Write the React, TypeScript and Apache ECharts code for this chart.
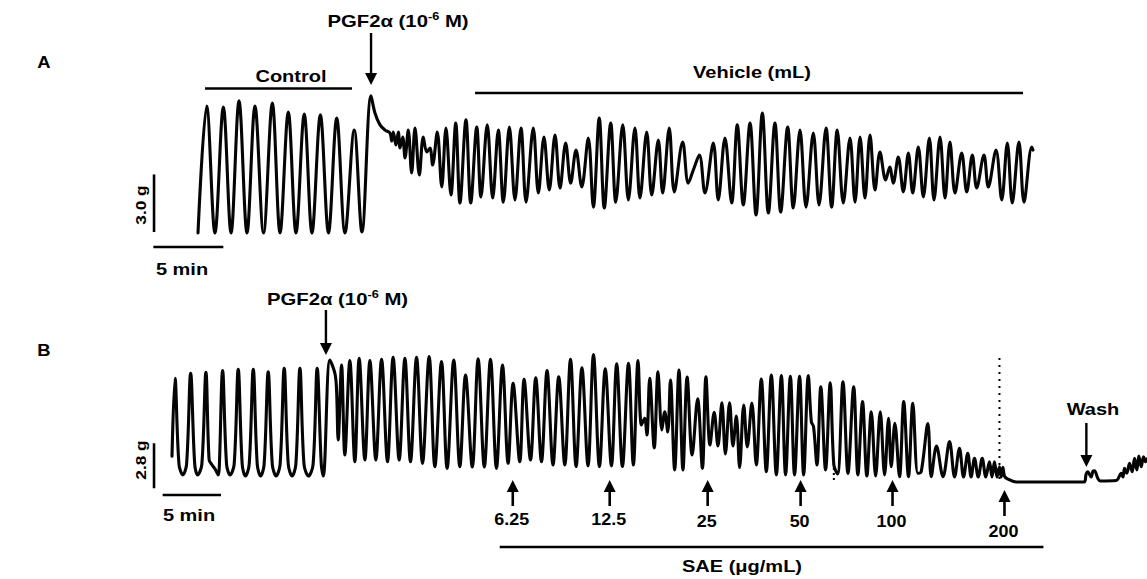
import { useEffect, useRef } from "react";
import * as echarts from "echarts";

const W = 1147;
const H = 579;
const FONT = '"Liberation Sans", Arial, Helvetica, sans-serif';

// ---------- Trace A : time (min) , tension (g) ----------
const A_CONTROL: [number, number][] = [
  [0, 0], [0.62, 6.61], [1.21, 0], [1.81, 6.56], [2.36, 0], [2.93, 6.88], [3.5, 0],
  [4.07, 6.61], [4.68, 0], [5.31, 6.77], [5.86, 0], [6.45, 6.3], [7.0, 0], [7.59, 6.2],
  [8.14, 0], [8.74, 6.15], [9.32, 0], [9.91, 5.99], [10.5, 0], [11.16, 5.36], [11.71, 0.05],
];
const A_PGF: [number, number][] = [
  [12.36, 7.14], [12.64, 6.25], [13.0, 5.63], [13.36, 5.36], [13.71, 5.21], [13.84, 4.79],
  [13.95, 5.26], [14.14, 4.58], [14.31, 5.26], [14.43, 4.43], [14.62, 5.0], [14.79, 3.91],
  [15.02, 5.36], [15.26, 3.13], [15.5, 5.47], [15.81, 3.02], [16.09, 5.0], [16.34, 4.22],
  [16.57, 4.43], [16.76, 3.54],
];
const A_VEHICLE: [number, number][] = [
  [17.09, 5.26], [17.41, 2.4], [17.71, 5.47], [18.07, 1.98], [18.41, 5.73], [18.71, 1.56],
  [19.14, 5.89], [19.48, 1.56], [19.91, 5.52], [20.21, 1.88], [20.66, 5.63], [21.05, 1.82],
  [21.45, 5.36], [21.81, 1.61], [22.24, 5.52], [22.64, 1.72], [23.07, 5.47], [23.43, 1.61],
  [23.95, 5.47], [24.31, 2.08], [24.71, 5.0], [25.09, 2.24], [25.5, 5.1], [25.86, 2.34],
  [26.26, 4.69], [26.62, 2.6], [27.0, 4.32], [27.41, 2.4], [27.88, 4.95], [28.24, 1.35],
  [28.66, 5.99], [29.02, 1.3], [29.48, 5.73], [29.84, 1.61], [30.34, 5.63], [30.74, 1.72],
  [31.21, 5.47], [31.57, 1.82], [32.05, 5.26], [32.41, 1.98], [32.88, 4.84], [33.19, 2.08],
  [33.66, 5.47], [34.02, 2.14], [34.62, 4.74], [35.02, 2.6], [35.38, 3.28], [35.81, 4.06],
  [36.21, 2.08], [36.81, 4.69], [37.16, 1.72], [37.64, 4.95], [38.12, 1.56], [38.52, 5.63],
  [38.95, 1.46], [39.43, 5.73], [39.86, 0.94], [40.31, 6.25], [40.74, 1.04], [41.21, 5.73],
  [41.62, 1.09], [42.12, 5.52], [42.52, 1.3], [43.0, 5.36], [43.43, 1.35], [43.95, 5.21],
  [44.36, 1.46], [44.86, 5.47], [45.26, 1.35], [45.66, 5.36], [46.09, 1.56], [46.57, 4.95],
  [46.93, 1.61], [47.29, 5.0], [47.64, 1.82], [48.0, 5.1], [48.36, 2.24], [48.71, 4.22],
  [49.12, 2.76], [49.41, 3.44], [49.66, 2.6], [50.02, 3.96], [50.38, 2.14], [50.74, 4.17],
  [51.05, 2.08], [51.45, 4.48], [51.81, 1.88], [52.24, 4.95], [52.57, 1.72], [53.0, 5.0],
  [53.36, 1.82], [53.71, 4.74], [54.07, 2.08], [54.55, 4.17], [54.91, 2.14], [55.31, 4.06],
  [55.62, 2.34], [56.14, 4.06], [56.45, 2.4], [57.0, 4.32], [57.41, 1.72], [57.81, 4.69],
  [58.16, 1.56], [58.64, 4.74], [59.0, 1.61], [59.55, 4.48], [59.64, 4.32],
];

// ---------- Trace B : time (min) , tension (g) ----------
const B_BASAL: [number, number][] = [
  [0, 1.6], [0.26, 6.45], [0.6, 1.1], [0.93, 0.44], [1.25, 1.1], [1.6, 6.76], [1.95, 1.1],
  [2.2, 0.44], [2.56, 1.1], [2.91, 6.83], [3.18, 1.4], [3.4, 1.1], [3.7, 0.8], [3.97, 0.44],
  [4.06, 1.0], [4.34, 6.93], [4.68, 1.1], [4.98, 0.44], [5.33, 1.1], [5.68, 7.01], [6.02, 1.1],
  [6.3, 0.37], [6.62, 1.1], [6.97, 7.01], [7.31, 1.1], [7.6, 0.37], [7.9, 1.1], [8.25, 6.86],
  [8.6, 1.1], [8.93, 0.37], [9.27, 1.1], [9.62, 7.08], [9.97, 1.1], [10.3, 0.37], [10.62, 1.1],
  [10.97, 7.08], [11.32, 1.1], [11.7, 0.37], [12.1, 1.1], [12.45, 7.08], [12.8, 1.1],
  [12.97, 0.37],
];
const B_PGF: [number, number][] = [
  [13.54, 7.59], [13.97, 6.76], [14.11, 5.73], [14.25, 2.61], [14.54, 7.28], [14.82, 1.68],
  [15.25, 7.55], [15.68, 1.26], [16.05, 7.7], [16.54, 1.37], [16.97, 7.55], [17.48, 1.37],
  [17.97, 7.64], [18.48, 1.26], [18.96, 7.76], [19.48, 1.37], [19.97, 7.7], [20.45, 1.26],
  [20.97, 7.76], [21.48, 1.16], [22.05, 7.8], [22.54, 0.95], [23.11, 7.49], [23.59, 0.85],
  [24.16, 7.59], [24.68, 0.95], [25.17, 6.66], [25.75, 0.93], [26.25, 7.67], [26.78, 0.93],
  [27.31, 7.64], [27.82, 0.85], [28.34, 7.28], [28.82, 1.16],
];
const B_SAE: [number, number][] = [
  [29.25, 6.14], [29.82, 1.26], [30.19, 6.39], [30.74, 1.37], [31.19, 6.49], [31.68, 1.26],
  [32.16, 6.93], [32.67, 1.06], [33.16, 6.55], [33.68, 1.06], [34.17, 7.64], [34.65, 0.96],
  [35.15, 7.11], [35.67, 1.0], [36.14, 7.93], [36.65, 0.95], [37.15, 7.04], [37.68, 1.0],
  [38.13, 7.36], [38.62, 0.96], [39.14, 7.39], [39.56, 1.06], [39.96, 7.55], [40.25, 3.55],
  [40.53, 3.96], [40.72, 2.92], [40.96, 6.45], [41.35, 2.12], [41.67, 6.86], [42.0, 3.24],
  [42.25, 4.37], [42.51, 3.11], [42.74, 6.35], [43.1, 0.75], [43.47, 6.97], [43.81, 0.75],
  [44.17, 6.53], [44.6, 1.68], [45.07, 5.18], [45.48, 0.85], [45.78, 6.55], [46.13, 2.3],
  [46.49, 4.34], [46.81, 2.24], [47.15, 4.93], [47.45, 1.74], [47.81, 4.93], [48.1, 2.24],
  [48.39, 4.11], [48.67, 0.9], [49.02, 4.79], [49.33, 2.18], [49.72, 4.92], [50.1, 1.06],
  [50.53, 6.41], [50.96, 0.64], [51.39, 6.66], [51.82, 0.44], [52.25, 6.63], [52.61, 0.44],
  [53.02, 6.58], [53.38, 0.44], [53.81, 6.58], [54.16, 0.44], [54.56, 6.63], [54.82, 3.75],
  [55.01, 3.44], [55.3, 1.06], [55.63, 5.93], [56.04, 0.75], [56.44, 6.18], [56.75, 1.06],
  [57.07, 0.5], [57.53, 6.24], [57.96, 0.54], [58.45, 5.93], [58.81, 0.44], [59.21, 5.0],
  [59.58, 0.37], [59.96, 4.37], [60.33, 0.37], [60.73, 4.37], [61.1, 0.44], [61.44, 3.96],
  [61.67, 0.95], [61.98, 3.65], [62.38, 0.33], [62.74, 5.0], [63.15, 0.33], [63.52, 4.9],
  [63.95, 0.54], [64.24, 0.64], [64.81, 3.63], [65.1, 0.33], [65.55, 2.24], [66.11, 0.33],
  [66.67, 2.51], [67.1, 0.31], [67.52, 2.1], [67.87, 0.31], [68.23, 1.79], [68.52, 0.31],
  [68.81, 1.47], [69.13, 0.31], [69.47, 1.47], [69.78, 0.31], [70.09, 1.26], [70.31, 0.31],
  [70.52, 1.26], [70.74, 0.31], [70.95, 0.95], [71.1, 0.31], [71.24, 0.91], [71.38, 0.37],
  [71.64, 0.19], [72.38, 0],
];
const B_WASH: [number, number][] = [
  [78.2, 0], [78.38, 0.5], [78.52, 0.64], [78.81, 0.31], [78.97, 0.68], [79.1, 0.7],
  [79.38, 0.23], [79.61, 0.06], [80.96, 0.09], [81.39, 0.54], [81.54, 0.31], [81.67, 0.85],
  [81.87, 0.54], [82.1, 1.16], [82.33, 0.64], [82.53, 1.47], [82.73, 0.75], [82.9, 1.62],
  [83.1, 0.95], [83.3, 1.57], [83.47, 1.26], [83.55, 1.43],
];

// ---------- Protocol events ----------
const PGF_TIME_A = 12.36;
const CONTROL_SPAN_A: [number, number] = [0.5, 11.0];
const VEHICLE_SPAN_A: [number, number] = [19.79, 58.93];
const PGF_TIME_B = 13.2;
const DOSE_LABELS = ["6.25", "12.5", "25", "50", "100", "200"];
const DOSE_TIMES_B = [29.22, 37.53, 45.93, 53.9, 61.78, 71.38];
const SAE_SPAN_B: [number, number] = [28.1, 74.72];
const WASH_TIME_B = 78.4;
const MARK_TIMES_B = [56.75, 70.95];
const SCALE_A = { grams: 3.0, minutes: 5 };
const SCALE_B = { grams: 2.8, minutes: 5 };

function txt(text: string, x: number, y: number, size = 16, sx = 1.25, extra: any = {}) {
  return {
    type: "text",
    x,
    y,
    scaleX: sx,
    ...extra,
    style: {
      text,
      fontSize: size,
      fontWeight: "bold",
      fontFamily: FONT,
      fill: "#000",
      align: "center",
      verticalAlign: "middle",
      textAlign: "center",
      textVerticalAlign: "middle",
    },
  };
}

function pgfLabel(x: number, y: number) {
  return {
    type: "text",
    x,
    y,
    scaleX: 1.27,
    style: {
      text: "{n|PGF2α (10}{s|-6}{n| M)}",
      align: "center",
      verticalAlign: "middle",
      textAlign: "center",
      textVerticalAlign: "middle",
      fill: "#000",
      rich: {
        n: { fontSize: 16, fontWeight: "bold", fontFamily: FONT, fill: "#000", lineHeight: 20 },
        s: { fontSize: 10, fontWeight: "bold", fontFamily: FONT, fill: "#000", verticalAlign: "top", lineHeight: 12 },
      },
    },
  };
}

function seg(x1: number, y1: number, x2: number, y2: number, w = 2.5, dash?: number[]) {
  return {
    type: "line",
    shape: { x1, y1, x2, y2 },
    style: { stroke: "#000", lineWidth: w, lineDash: dash },
  };
}

function arrow(x: number, yStart: number, yTip: number, head = 12, halfW = 6, w = 2.4) {
  const dir = yTip > yStart ? 1 : -1;
  const yb = yTip - dir * head;
  return [
    seg(x, yStart, x, yb + dir * 1, w),
    {
      type: "polygon",
      shape: { points: [[x - halfW, yb], [x + halfW, yb], [x, yTip]] },
      style: { fill: "#000" },
    },
  ];
}

export default function App() {
  const ref = useRef<HTMLDivElement>(null);

  useEffect(() => {
    const el = ref.current;
    if (!el) return;
    const chart = echarts.init(el, null, { renderer: "svg", width: W, height: H });
    const traceA = [...A_CONTROL, ...A_PGF, ...A_VEHICLE];
    const traceB = [...B_BASAL, ...B_PGF, ...B_SAE, ...B_WASH];

    const hiddenAxis = { type: "value", show: false, splitLine: { show: false } };
    const lineSeries = (data: [number, number][], idx: number, name: string) => ({
      type: "line",
      name,
      xAxisIndex: idx,
      yAxisIndex: idx,
      data,
      showSymbol: false,
      symbol: "none",
      smooth: 0.35,
      silent: true,
      lineStyle: { color: "#050505", width: 3.1, join: "round", cap: "round" },
    });

    chart.setOption({
      animation: false,
      backgroundColor: "#ffffff",
      grid: [
        { left: 149, top: 89, width: 896, height: 163.2 },
        { left: 148.66, top: 345.4, width: 998.95, height: 152.67 },
      ],
      xAxis: [
        { ...hiddenAxis, gridIndex: 0, min: -3.5, max: 60.5 },
        { ...hiddenAxis, gridIndex: 1, min: -2, max: 83.6 },
      ],
      yAxis: [
        { ...hiddenAxis, gridIndex: 0, min: -1, max: 7.5 },
        { ...hiddenAxis, gridIndex: 1, min: -1, max: 8.5 },
      ],
      series: [lineSeries(traceA, 0, "A"), lineSeries(traceB, 1, "B")],
    });

    const pA = (t: number, v: number) => chart.convertToPixel({ gridIndex: 0 }, [t, v]) as number[];
    const pB = (t: number, v: number) => chart.convertToPixel({ gridIndex: 1 }, [t, v]) as number[];

    const g: any[] = [];
    // Panel A
    g.push(txt("A", 44, 62, 16, 1.15));
    g.push(pgfLabel(398, 21));
    g.push(...arrow(pA(PGF_TIME_A, 0)[0], 33, 85));
    g.push(txt("Control", 291, 77));
    g.push(seg(pA(CONTROL_SPAN_A[0], 0)[0], 88.5, pA(CONTROL_SPAN_A[1], 0)[0], 88.5, 2.6));
    g.push(txt("Vehicle (mL)", 752, 73));
    g.push(seg(pA(VEHICLE_SPAN_A[0], 0)[0], 93, pA(VEHICLE_SPAN_A[1], 0)[0], 93, 2.6));
    {
      const v0 = pA(-3.14, 0.05);
      const v1 = pA(-3.14, 0.05 + SCALE_A.grams);
      g.push(seg(v0[0], v0[1], v1[0], v1[1], 2.6));
      const h0 = pA(-3.19, -0.73);
      const h1 = pA(-3.19 + SCALE_A.minutes, -0.73);
      g.push(seg(h0[0], h0[1], h1[0], h1[1], 2.6));
      g.push(txt(SCALE_A.grams.toFixed(1) + " g", 140, 205, 15, 1.15, { rotation: Math.PI / 2 }));
      g.push(txt(SCALE_A.minutes + " min", 182, 269.5));
    }
    // Panel B
    g.push(txt("B", 44, 350, 16, 1.15));
    g.push(pgfLabel(337.5, 299));
    g.push(...arrow(pB(PGF_TIME_B, 0)[0], 310, 355));
    {
      const v0 = pB(-1.54, -0.39);
      const v1 = pB(-1.54, -0.39 + SCALE_B.grams);
      g.push(seg(v0[0], v0[1], v1[0], v1[1], 2.6));
      const h0 = pB(-0.8, -0.81);
      const h1 = pB(-0.8 + SCALE_B.minutes, -0.81);
      g.push(seg(h0[0], h0[1], h1[0], h1[1], 2.6));
      g.push(txt(SCALE_B.grams.toFixed(1) + " g", 140, 460, 15, 1.15, { rotation: Math.PI / 2 }));
      g.push(txt(SCALE_B.minutes + " min", 189, 516));
    }
    DOSE_TIMES_B.forEach((t, i) => {
      const x = pB(t, 0)[0];
      const off = i === DOSE_TIMES_B.length - 1 ? 10 : 0;
      g.push(...arrow(x, 506 + off, 480 + off, 12, 6, 2.6));
      g.push(txt(DOSE_LABELS[i], x - 1, 520 + off + (i >= 2 ? 2 : 0), 16, 1.12));
    });
    g.push(seg(pB(SAE_SPAN_B[0], 0)[0], 547, pB(SAE_SPAN_B[1], 0)[0], 547, 2.6));
    g.push(txt("SAE (μg/mL)", 742, 567));
    g.push(txt("Wash", 1093, 410));
    g.push(...arrow(pB(WASH_TIME_B, 0)[0], 423, 467));
    g.push(seg(pB(MARK_TIMES_B[1], 0)[0], 358, pB(MARK_TIMES_B[1], 0)[0], 480, 2, [2, 5]));
    g.push(seg(pB(MARK_TIMES_B[0], 0)[0], 458, pB(MARK_TIMES_B[0], 0)[0], 483, 2, [2, 3]));

    chart.setOption({ graphic: { elements: g } });

    return () => {
      chart.dispose();
    };
  }, []);

  return (
    <div
      ref={ref}
      style={{ position: "fixed", left: 0, top: 0, width: W, height: H, background: "#fff" }}
    />
  );
}
